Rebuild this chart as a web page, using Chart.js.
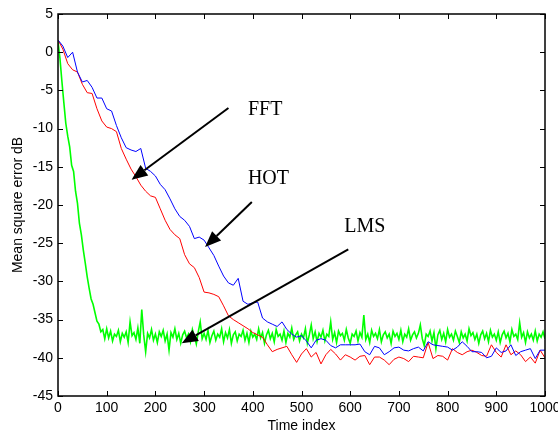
<!DOCTYPE html>
<html>
<head>
<meta charset="utf-8">
<script src="https://cdn.jsdelivr.net/npm/chart.js@4.4.1/dist/chart.umd.min.js"></script>
<style>
  html, body { margin: 0; padding: 0; background: #fff; }
  #grafico { display: block; }
</style>
</head>
<body>
<canvas id="grafico" width="558" height="436"></canvas>
<script>
// curvas FFT y HOT: un punto cada 10 muestras
const tiempoGrueso = Array.from({ length: 101 }, (_, i) => i * 10);
// curva LMS: un punto cada 4 muestras
const tiempoFino = Array.from({ length: 251 }, (_, i) => i * 4);

const mseFFT = [
  1.6, 0.8, -0.7, 0.0, -2.6, -3.9, -3.7, -4.6, -6.0, -6.0,
  -7.4, -7.7, -9.6, -11.2, -12.5, -12.8, -13.0, -12.6, -15.2, -15.6,
  -16.2, -17.3, -18.0, -19.2, -20.5, -21.5, -22.0, -22.8, -24.4, -24.2,
  -24.6, -25.6, -26.6, -28.0, -29.3, -30.2, -30.5, -29.6, -32.6, -33.0,
  -32.8, -32.7, -34.8, -35.3, -35.6, -35.9, -35.3, -36.3, -36.9, -37.3,
  -37.1, -37.8, -38.7, -37.7, -37.5, -37.7, -38.4, -38.7, -38.3, -38.3,
  -38.3, -38.3, -38.2, -39.2, -39.6, -38.5, -38.7, -39.6, -39.2, -38.7,
  -38.6, -39.0, -39.1, -38.8, -38.6, -39.1, -37.9, -38.3, -38.4, -38.5,
  -38.6, -39.0, -38.6, -37.9, -38.5, -39.2, -39.2, -39.3, -40.0, -39.8,
  -38.7, -39.3, -39.1, -38.3, -39.7, -39.2, -39.0, -38.8, -40.1, -39.0,
  -39.0
];

const mseHOT = [
  1.6, 0.4, -1.5, -2.3, -2.6, -4.2, -5.3, -5.4, -7.4, -9.0,
  -9.8, -10.0, -10.4, -12.6, -14.0, -15.3, -16.3, -17.4, -18.2, -18.8,
  -19.0, -20.5, -22.0, -23.2, -23.9, -24.4, -26.5, -27.7, -28.2, -29.5,
  -31.4, -31.5, -31.7, -32.0, -33.2, -34.5, -35.0, -35.4, -35.8, -36.2,
  -36.7, -37.0, -37.3, -38.3, -39.2, -38.9, -38.7, -38.5, -39.6, -40.6,
  -39.5, -38.8, -39.9, -39.3, -40.8, -39.6, -38.9, -39.5, -40.3, -39.6,
  -39.9, -40.3, -39.8, -39.7, -40.9, -39.9, -39.9, -40.3, -40.9, -40.2,
  -39.9, -40.1, -40.5, -39.8, -39.9, -40.0, -38.0, -40.1, -39.7, -39.8,
  -40.3, -38.8, -39.3, -39.6, -39.2, -39.0, -39.3, -39.7, -39.8, -38.3,
  -39.3, -39.9, -38.3, -39.6, -39.1, -39.6, -40.5, -39.9, -40.7, -39.0,
  -40.0
];

const mseLMS = [
  1.4, -0.8, -3.8, -6.6, -9.3, -11.0, -12.4, -14.8, -15.6, -18.2,
  -19.8, -22.4, -23.9, -25.9, -27.6, -29.4, -30.9, -32.3, -33.0, -34.1,
  -35.2, -35.6, -36.6, -36.3, -37.5,
  -36.2, -37.4, -36.5, -37.8, -36.9, -37.2, -36.4, -37.9, -36.8, -37.3,
  -36.6, -38.0, -35.3, -37.1, -36.7, -37.6, -36.1, -38.1, -33.7, -37.0,
  -39.2, -36.8, -37.4, -36.3, -37.7, -36.9, -38.0, -36.6, -37.2, -36.4,
  -37.8, -36.9, -39.0, -36.7, -37.3, -36.2, -37.6, -36.8, -38.1, -37.0,
  -36.5, -37.4, -36.9, -37.9, -36.3, -37.2, -38.2, -36.6, -35.3, -37.5,
  -36.8, -37.6, -36.4, -38.0, -37.1, -36.5, -37.7, -36.9, -37.3, -36.2,
  -37.9, -36.7, -37.4, -36.3, -38.1, -37.0, -36.6, -37.8, -36.9, -37.2,
  -36.4, -37.7, -36.8, -38.0, -36.5, -37.3, -36.9, -37.6, -36.2, -37.4,
  -36.7, -38.1, -37.0, -36.4, -37.5, -36.8, -37.9, -36.3, -37.2, -36.9,
  -37.7, -36.5, -38.0, -36.8, -37.3, -36.1, -37.6, -37.0, -36.6, -37.8,
  -36.9, -37.4, -36.2, -38.1, -37.0, -35.7, -37.5, -36.6, -37.9, -36.8,
  -37.3, -36.4, -37.8, -36.9, -37.2, -35.3, -37.6, -36.7, -38.0, -36.5,
  -37.1, -36.8, -37.7, -36.3, -37.4, -38.1, -36.9, -37.2, -36.5, -37.8,
  -36.7, -37.3, -34.4, -37.6, -36.9, -38.0, -36.4, -37.2, -36.8, -37.5,
  -36.3, -37.9, -37.0, -36.6, -37.4, -36.9, -38.1, -36.5, -37.2, -36.8,
  -37.6, -36.4, -37.9, -36.9, -37.3, -36.2, -37.7, -37.0, -36.6, -37.4,
  -36.8, -35.7, -37.5, -38.4, -36.9, -37.2, -36.5, -37.8, -36.7, -38.8,
  -37.0, -36.4, -37.6, -36.8, -37.9, -36.3, -37.3, -36.9, -37.7, -36.5,
  -37.2, -38.0, -36.6, -37.4, -36.9, -37.8, -36.2, -37.1, -36.7, -37.6,
  -36.9, -38.1, -37.0, -36.5, -37.5, -36.8, -37.9, -36.4, -37.3, -36.9,
  -37.7, -36.6, -38.0, -37.0, -36.5, -37.4, -36.8, -37.9, -36.3, -37.2,
  -36.9, -37.6, -35.4, -37.3, -36.7, -38.0, -36.6, -37.4, -36.9, -37.7,
  -36.5, -37.8, -36.9, -37.3, -36.6, -37.5
];

// etiquetas con flecha: texto, posicion del texto, inicio y punta de la flecha (en datos)
const etiquetas = ['FFT', 'HOT', 'LMS'];
const posTexto = [[390, -8.2], [390, -17.25], [588, -23.5]];
const inicioFlecha = [[350, -7.3], [398, -19.6], [596, -25.8]];
const puntaFlecha = [[151, -16.7], [302, -25.5], [254, -38.1]];

const fuenteEjes = { family: 'Liberation Sans, Arial, sans-serif', size: 14 };

function armarSerie(xs, ys) {
  return ys.map((v, i) => ({ x: xs[i], y: v }));
}

//MARCO, MARCAS Y FLECHAS
const marcoPlugin = {
  id: 'marco',
  afterDatasetsDraw(chart) {
    const { ctx, chartArea: a, scales } = chart;
    const sx = scales.x, sy = scales.y;
    const largo = 5;
    ctx.save();
    ctx.strokeStyle = '#000';
    ctx.lineWidth = 1;
    ctx.beginPath();
    sx.ticks.forEach((t) => {
      const px = Math.round(sx.getPixelForValue(t.value)) + 0.5;
      ctx.moveTo(px, a.bottom); ctx.lineTo(px, a.bottom - largo);
      ctx.moveTo(px, a.top); ctx.lineTo(px, a.top + largo);
    });
    sy.ticks.forEach((t) => {
      const py = Math.round(sy.getPixelForValue(t.value)) + 0.5;
      ctx.moveTo(a.left, py); ctx.lineTo(a.left + largo, py);
      ctx.moveTo(a.right, py); ctx.lineTo(a.right - largo, py);
    });
    ctx.stroke();
    ctx.lineWidth = 1.5;
    ctx.strokeRect(a.left, a.top, a.right - a.left, a.bottom - a.top);

    // flechas
    ctx.fillStyle = '#000';
    ctx.lineWidth = 2;
    etiquetas.forEach((txt, i) => {
      const x0 = sx.getPixelForValue(inicioFlecha[i][0]);
      const y0 = sy.getPixelForValue(inicioFlecha[i][1]);
      const x1 = sx.getPixelForValue(puntaFlecha[i][0]);
      const y1 = sy.getPixelForValue(puntaFlecha[i][1]);
      const ang = Math.atan2(y1 - y0, x1 - x0);
      const lc = 16, an = 6.5;
      const bx = x1 - lc * Math.cos(ang), by = y1 - lc * Math.sin(ang);
      ctx.beginPath();
      ctx.moveTo(x0, y0);
      ctx.lineTo(bx, by);
      ctx.stroke();
      ctx.beginPath();
      ctx.moveTo(x1, y1);
      ctx.lineTo(bx + an * Math.sin(ang), by - an * Math.cos(ang));
      ctx.lineTo(bx - an * Math.sin(ang), by + an * Math.cos(ang));
      ctx.closePath();
      ctx.fill();

      ctx.font = '20px "Liberation Serif", "Times New Roman", serif';
      ctx.textAlign = 'left';
      ctx.textBaseline = 'alphabetic';
      ctx.fillText(txt, sx.getPixelForValue(posTexto[i][0]), sy.getPixelForValue(posTexto[i][1]));
    });
    ctx.restore();
  },
};

new Chart(document.getElementById('grafico'), {
  type: 'line',
  data: {
    datasets: [
      { label: 'FFT', data: armarSerie(tiempoGrueso, mseFFT), borderColor: '#0000ff', borderWidth: 1 },
      { label: 'HOT', data: armarSerie(tiempoGrueso, mseHOT), borderColor: '#ff0000', borderWidth: 1 },
      { label: 'LMS', data: armarSerie(tiempoFino, mseLMS), borderColor: '#00ff00', borderWidth: 1.6 },
    ],
  },
  options: {
    responsive: false,
    animation: false,
    events: [],
    elements: { point: { radius: 0 }, line: { tension: 0 } },
    layout: { padding: { top: 14, right: 13, left: 0, bottom: 0 } },
    plugins: { legend: { display: false }, tooltip: { enabled: false } },
    scales: {
      x: {
        type: 'linear',
        min: 0,
        max: 1000,
        grid: { display: false, drawTicks: false },
        border: { display: false },
        ticks: { stepSize: 100, font: fuenteEjes, color: '#000', padding: 4, maxRotation: 0, callback: (v) => String(v) },
        title: { display: true, text: 'Time index', font: fuenteEjes, color: '#000', padding: { top: 0, bottom: 1 } },
        afterFit(scale) {
          scale.height = 40;
          scale.paddingLeft = 0;
          scale.paddingRight = 0;
        },
      },
      y: {
        min: -45,
        max: 5,
        grid: { display: false, drawTicks: false },
        border: { display: false },
        ticks: { stepSize: 5, font: fuenteEjes, color: '#000', padding: 5 },
        title: { display: true, text: 'Mean square error dB', font: fuenteEjes, color: '#000', padding: { top: 10, bottom: 0 } },
        afterFit(scale) {
          scale.width = 58;
          scale.paddingTop = 0;
          scale.paddingBottom = 0;
        },
      },
    },
  },
  plugins: [marcoPlugin],
});
</script>
</body>
</html>
